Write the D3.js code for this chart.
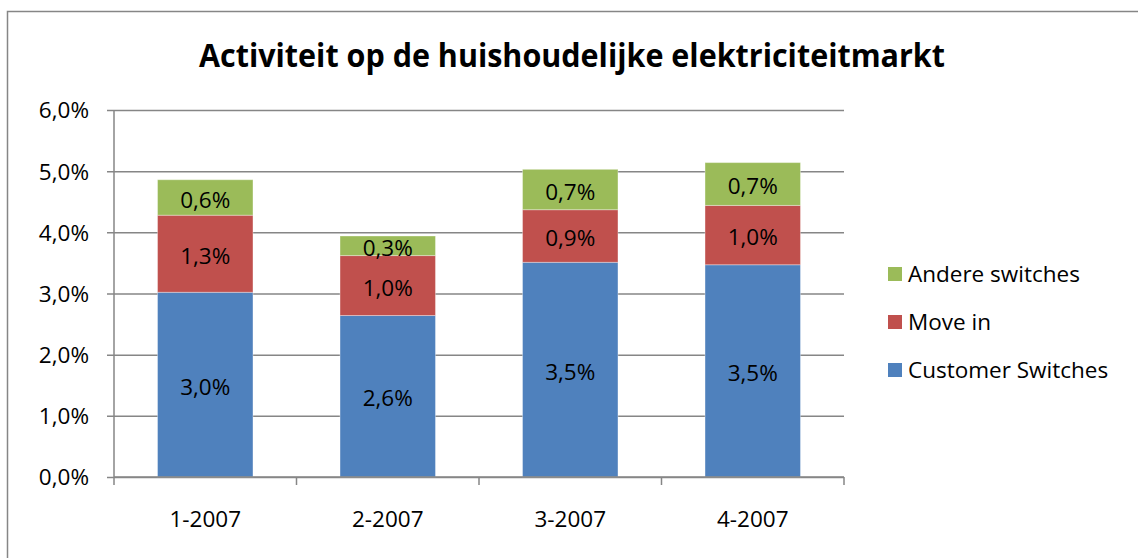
<!DOCTYPE html>
<html>
<head>
<meta charset="utf-8">
<script src="https://cdn.jsdelivr.net/npm/d3@7"></script>
<style>
  body { margin: 0; background: #fff; }
  svg { display: block; font-family: "Open Sans", "Liberation Sans", sans-serif; }
</style>
</head>
<body>
<div id="chart"></div>
<script>
'use strict';

// data (percent)
var categories = ['1-2007', '2-2007', '3-2007', '4-2007'];
var customerSwitches = [3.02, 2.64, 3.51, 3.47];
var moveIn = [1.26, 0.98, 0.86, 0.97];
var andereSwitches = [0.58, 0.32, 0.66, 0.70];
var yTicks = [0, 1, 2, 3, 4, 5, 6];

var seriesNames = ['Customer Switches', 'Move in', 'Andere switches'];
var seriesColors = ['#4F81BD', '#C0504D', '#9BBB59'];

var W = 1138, H = 558;
var plot = { left: 114, right: 844, top: 110, bottom: 477 };
var fontSize = '22.5px';

var fmt = function (v) { return v.toFixed(1).replace('.', ',') + '%'; };

// build rows for d3.stack
var rows = categories.map(function (c, i) {
  return { cat: c, 'Customer Switches': customerSwitches[i], 'Move in': moveIn[i], 'Andere switches': andereSwitches[i] };
});
var stacked = d3.stack().keys(seriesNames)(rows);

var x = d3.scaleBand().domain(categories).range([plot.left, plot.right]).paddingInner(0.477).paddingOuter(0.2385);
var y = d3.scaleLinear().domain([0, 6]).range([plot.bottom, plot.top]);
var color = d3.scaleOrdinal().domain(seriesNames).range(seriesColors);

var svg = d3.select('#chart').append('svg')
    .attr('width', W)
    .attr('height', H);

// chart border
svg.append('rect')
    .attr('x', 7.5).attr('y', 11.5)
    .attr('width', W + 10).attr('height', H + 10)
    .attr('fill', '#fff')
    .attr('stroke', '#868686')
    .attr('stroke-width', 1.5);

// title
svg.append('text')
    .attr('x', 572)
    .attr('y', 67)
    .attr('text-anchor', 'middle')
    .attr('textLength', 746)
    .attr('lengthAdjust', 'spacingAndGlyphs')
    .style('font-size', '33px')
    .style('font-weight', 'bold')
    .text('Activiteit op de huishoudelijke elektriciteitmarkt');

// gridlines + y tick labels
var yAxis = d3.axisLeft(y)
    .tickValues(yTicks)
    .tickSize(-(plot.right - plot.left))
    .tickPadding(0)
    .tickFormat(function (d) { return fmt(d); });

var gy = svg.append('g')
    .attr('transform', 'translate(' + plot.left + ',0)')
    .call(yAxis);
gy.select('.domain').remove();
gy.selectAll('.tick line')
    .attr('x1', -7)
    .attr('stroke', '#868686')
    .attr('stroke-width', 1.5);
gy.selectAll('.tick text')
    .attr('x', -25)
    .attr('dy', '0.35em')
    .style('font-size', fontSize)
    .style('font-family', '"Open Sans", sans-serif')
    .attr('fill', '#000');

// bars
var layer = svg.append('g').selectAll('g')
    .data(stacked)
  .enter().append('g')
    .attr('fill', function (d) { return color(d.key); });

layer.selectAll('rect')
    .data(function (d) { return d; })
  .enter().append('rect')
    .attr('x', function (d) { return x(d.data.cat); })
    .attr('y', function (d) { return y(d[1]); })
    .attr('width', x.bandwidth())
    .attr('height', function (d) { return y(d[0]) - y(d[1]); })
    .attr('stroke', 'rgba(255,255,255,0.35)')
    .attr('stroke-width', 1);

// data labels
layer.selectAll('text')
    .data(function (d) { return d; })
  .enter().append('text')
    .attr('x', function (d) { return x(d.data.cat) + x.bandwidth() / 2; })
    .attr('y', function (d) { return (y(d[0]) + y(d[1])) / 2 + 2; })
    .attr('dy', '0.36em')
    .attr('text-anchor', 'middle')
    .attr('fill', '#000')
    .style('font-size', fontSize)
    .text(function (d) { return fmt(d[1] - d[0]); });

// y axis line
svg.append('line')
    .attr('x1', plot.left).attr('x2', plot.left)
    .attr('y1', plot.top).attr('y2', plot.bottom)
    .attr('stroke', '#868686')
    .attr('stroke-width', 1.5);

// x axis
var xAxis = d3.axisBottom(x).tickSize(0).tickPadding(0);
var gx = svg.append('g')
    .attr('transform', 'translate(0,' + plot.bottom + ')')
    .call(xAxis);
gx.select('.domain')
    .attr('d', 'M' + plot.left + ',0H' + plot.right)
    .attr('stroke', '#868686')
    .attr('stroke-width', 1.5);
gx.selectAll('.tick text')
    .attr('y', 42)
    .attr('dy', '0.35em')
    .style('font-size', fontSize)
    .style('font-family', '"Open Sans", sans-serif')
    .attr('fill', '#000');

// category boundary ticks
var step = x.step();
var bounds = d3.range(categories.length + 1).map(function (i) { return plot.left + i * step; });
svg.append('g').selectAll('line')
    .data(bounds)
  .enter().append('line')
    .attr('x1', function (d) { return d; })
    .attr('x2', function (d) { return d; })
    .attr('y1', plot.bottom)
    .attr('y2', plot.bottom + 8)
    .attr('stroke', '#868686')
    .attr('stroke-width', 1.5);

// legend (reverse order, top = last series)
var legendItems = seriesNames.slice().reverse();
var lg = svg.append('g').selectAll('g')
    .data(legendItems)
  .enter().append('g')
    .attr('transform', function (d, i) { return 'translate(888,' + (274 + i * 48) + ')'; });
lg.append('rect')
    .attr('x', 0).attr('y', -7)
    .attr('width', 14).attr('height', 14)
    .attr('fill', function (d) { return color(d); });
lg.append('text')
    .attr('x', 20)
    .attr('dy', '0.36em')
    .style('font-size', fontSize)
    .attr('fill', '#000')
    .text(function (d) { return d; });
</script>
</body>
</html>
